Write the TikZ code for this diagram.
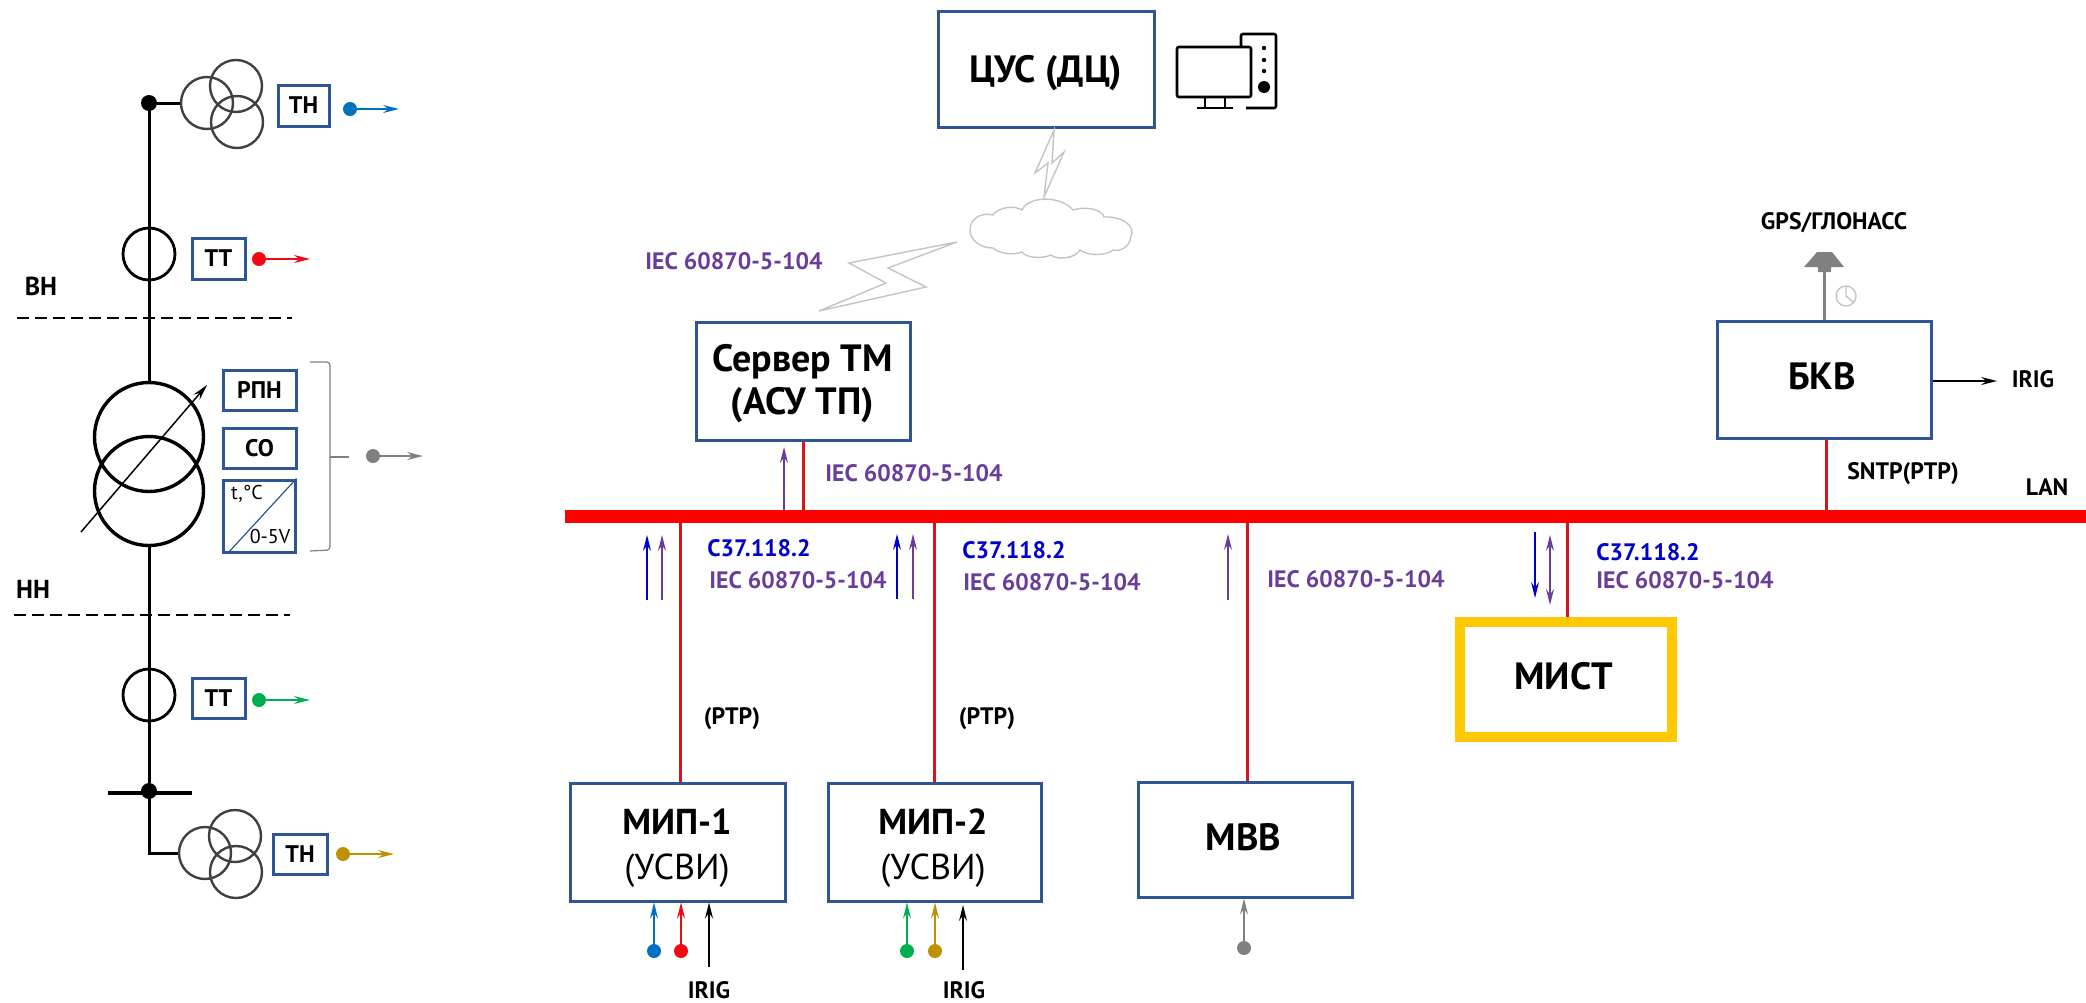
\documentclass[tikz,border=0pt]{standalone}
\usepackage{fontspec}
\setmainfont{PT Sans}
\usetikzlibrary{arrows.meta}

\definecolor{boxblue}{HTML}{2F5597}
\definecolor{lanred}{HTML}{FF0000}
\definecolor{tapred}{HTML}{D5141E}
\definecolor{protoblue}{HTML}{0000CC}
\definecolor{protopurple}{HTML}{6A3D9A}
\definecolor{sigblue}{HTML}{0070C0}
\definecolor{sigred}{HTML}{F00A14}
\definecolor{siggreen}{HTML}{00B050}
\definecolor{siggold}{HTML}{BF9000}
\definecolor{siggray}{HTML}{808080}
\definecolor{mistyellow}{HTML}{FFC800}
\definecolor{linkgray}{HTML}{C4C4C4}
\definecolor{coilgray}{HTML}{404040}

\tikzset{
  >={Stealth[length=8pt,width=4pt,inset=2.8pt]},
  unitbox/.style={draw=boxblue, line width=1.5pt, inner sep=0pt},
  unittext/.style={inner sep=0pt, align=center, font=\bfseries\fontsize{19}{21.5}\selectfont},
  miptext/.style={inner sep=0pt, align=center, font=\bfseries\fontsize{18}{22.5}\selectfont},
  smallbox/.style={draw=boxblue, line width=1.5pt, inner sep=0pt, font=\bfseries\fontsize{12}{14}\selectfont},
  lbl/.style={inner sep=0pt, font=\bfseries\fontsize{11.9}{14}\selectfont},
  iec/.style={lbl, anchor=west, text=protopurple},
  c37/.style={lbl, anchor=west, text=protoblue},
  coil/.style={circle, draw=coilgray, line width=1.2pt, minimum size=26pt, inner sep=0pt},
  ct/.style={circle, draw=black, line width=1.4pt, minimum size=26pt, inner sep=0pt},
  winding/.style={circle, draw=black, line width=1.7pt, minimum size=54.5pt, inner sep=0pt},
  dot/.style={circle, fill=#1, minimum size=7pt, inner sep=0pt},
  sig/.style={->, #1, line width=.75pt},
  tap/.style={tapred, line width=1.5pt},
  zone/.style={dash pattern=on 6pt off 3pt, line width=.6pt},
  bolt/.style={draw=linkgray, line width=.7pt, line join=miter}
}

\begin{document}
\begin{tikzpicture}[x=0.5pt, y=-0.5pt]
  \useasboundingbox (0,0) rectangle (2086,1002);

  % -- Upper voltage transformer --
  \node[circle, fill=black, minimum size=8pt, inner sep=0pt] (topdot) at (149,103) {};
  \node[coil] (vt1a) at (207,103) {};
  \node[coil] (vt1b) at (236,86) {};
  \node[coil] (vt1c) at (237,122) {};
  \node[smallbox, minimum width=25.5pt, minimum height=20.5pt] (th1) at (303.5,105.5) {ТН};
  \draw[line width=1.5pt] (topdot) -- (vt1a);
  \node[dot=sigblue] (th1dot) at (350,109) {};
  \coordinate (th1end) at (399,109);
  \draw[sig=sigblue] (th1dot) -- (th1end);

  % -- Upper current transformer --
  \node[ct] (ct1) at (149,254) {};
  \node[smallbox, minimum width=26.5pt, minimum height=20.5pt] (tt1) at (218.5,258.5) {ТТ};
  \node[dot=sigred] (tt1dot) at (259,259) {};
  \coordinate (tt1end) at (310,259);
  \draw[sig=sigred] (tt1dot) -- (tt1end);

  % -- Voltage zones --
  \node[font=\bfseries\fontsize{13}{15}\selectfont, inner sep=0pt] (vn) at (41,286) {ВН};
  \coordinate (vnL) at (17,318);
  \coordinate (vnR) at (292,318);
  \draw[zone] (vnL) -- (vnR);
  \node[font=\bfseries\fontsize{13}{15}\selectfont, inner sep=0pt] (nn) at (33,589) {НН};
  \coordinate (nnL) at (14,615);
  \coordinate (nnR) at (290,615);
  \draw[zone] (nnL) -- (nnR);

  % -- Power transformer --
  \node[winding] (trhi) at (149,437) {};
  \node[winding] (trlo) at (149,491) {};
  \coordinate (tapA) at (81,532);
  \coordinate (tapB) at (207,385);
  \draw[->, line width=.75pt] (tapA) -- (tapB);
  \draw[line width=1.5pt] (topdot) -- (trhi);

  % -- Transformer monitoring --
  \node[smallbox, minimum width=36.5pt, minimum height=20pt] (rpn) at (259.5,390) {РПН};
  \node[smallbox, minimum width=36.5pt, minimum height=20pt] (so) at (259.5,448) {СО};
  \node[smallbox, minimum width=36pt, minimum height=36pt] (sens) at (259,516) {};
  \draw[boxblue, line width=.6pt] ([xshift=3pt]sens.south west) -- (sens.north east);
  \node[font=\fontsize{10}{12}\selectfont, inner sep=0pt] (tempC) at (247,494) {t,°C};
  \node[font=\fontsize{10}{12}\selectfont, inner sep=0pt] (volts) at (270,536) {0-5V};
  \coordinate (brA) at (310,362);
  \coordinate (brB) at (330,362);
  \coordinate (brC) at (330,550);
  \coordinate (brD) at (310,551);
  \coordinate (brM) at (330,457);
  \coordinate (brE) at (349,457);
  \draw[siggray, line width=.6pt, rounded corners=1.5pt] (brA) -- (brB) -- (brC) -- (brD);
  \draw[siggray, line width=.6pt] (brM) -- (brE);
  \node[dot=siggray] (mondot) at (373,456) {};
  \coordinate (monend) at (423,456);
  \draw[sig=siggray] (mondot) -- (monend);

  % -- Lower current transformer --
  \node[ct] (ct2) at (149,695) {};
  \node[smallbox, minimum width=26.5pt, minimum height=20pt] (tt2) at (218.5,698) {ТТ};
  \node[dot=siggreen] (tt2dot) at (259,700) {};
  \coordinate (tt2end) at (310,700);
  \draw[sig=siggreen] (tt2dot) -- (tt2end);

  % -- Lower bus and voltage transformer --
  \node[circle, fill=black, minimum size=8pt, inner sep=0pt] (busdot) at (149,791) {};
  \coordinate (lowL) at (108,793);
  \coordinate (lowR) at (192,793);
  \draw[line width=2.2pt] (lowL) -- (lowR);
  \draw[line width=1.5pt] (trlo) -- (busdot);
  \node[coil] (vt2a) at (205,853) {};
  \node[coil] (vt2b) at (235,836) {};
  \node[coil] (vt2c) at (236,872) {};
  \draw[line width=1.5pt] (busdot) |- (vt2a);
  \node[smallbox, minimum width=27pt, minimum height=20pt] (th2) at (300,854) {ТН};
  \node[dot=siggold] (th2dot) at (343,854) {};
  \coordinate (th2end) at (394,854);
  \draw[sig=siggold] (th2dot) -- (th2end);

  % -- Control centre --
  \node[unitbox, minimum width=108pt, minimum height=58pt] (cus) at (1046,69) {};
  \node[unittext] (custxt) at (1046,73) {ЦУС (ДЦ)};

  % -- Computer icon --
  \draw[line width=1.3pt, rounded corners=1pt] (1177,47) rectangle (1251,97);
  \draw[line width=1.3pt, rounded corners=1pt] (1241,47) -- (1241,34) -- (1276,34) -- (1276,108) -- (1246,108);
  \draw[line width=1.3pt] (1205,97) -- (1205,107) (1225,97) -- (1225,107) (1197,108) -- (1233,108);
  \fill (1264,48) circle (1.1pt) (1264,60) circle (1.1pt) (1264,71) circle (1.1pt) (1264,87) circle (3pt);

  % -- Radio links and cloud --
  \draw[bolt] (1054,130) -- (1035,173) -- (1048,163) -- (1044,197) -- (1064,152) -- (1052,163) -- cycle;
  \draw[bolt] (970,230) .. controls (970,218) and (982,212) .. (993,215) .. controls (998,207) and (1015,205) .. (1022,210) .. controls (1028,196) and (1060,195) .. (1073,210) .. controls (1085,206) and (1102,209) .. (1104,217) .. controls (1122,216) and (1136,226) .. (1131,236) .. controls (1130,247) and (1120,252) .. (1113,250) .. controls (1106,256) and (1088,256) .. (1080,250) .. controls (1075,259) and (1056,260) .. (1051,255) .. controls (1042,259) and (1026,258) .. (1022,252) .. controls (1012,256) and (998,253) .. (993,248) .. controls (980,248) and (970,240) .. (970,230) -- cycle;
  \draw[bolt] (957,242) -- (849,263) -- (886,283) -- (819,311) -- (926,287) -- (888,268) -- cycle;
  \node[iec] (ieccloud) at (645,261) {IEC 60870-5-104};

  % -- TM server --
  \node[unitbox, minimum width=107pt, minimum height=59pt] (server) at (803,381) {};
  \node[unittext] (servertxt) at (802.5,384) {Сервер ТМ\\(АСУ ТП)};

  % -- Time server --
  \node[unitbox, minimum width=107pt, minimum height=58.5pt] (bkv) at (1824,379.5) {};
  \node[unittext] (bkvtxt) at (1822,376) {БКВ};
  \coordinate (antbase) at (1824,272);
  \draw[siggray, line width=1.5pt] (bkv.north) -- (antbase);
  \fill[siggray] (1817,252) -- (1832,252) -- (1844,267) -- (1831,267) -- (1831,272) -- (1818,272) -- (1818,267) -- (1804,267) -- cycle;
  \draw[linkgray, line width=.7pt] (1846,296) circle (5pt) (1846,287) -- (1846,296) -- (1853,302);
  \node[lbl] (gps) at (1834,223) {GPS/ГЛОНАСС};
  \coordinate (irigout) at (1997,381);
  \draw[sig=black] (bkv.east |- irigout) -- (irigout);
  \node[lbl] (irig3) at (2033,379) {IRIG};
  \node[lbl] (sntp) at (1903,474) {SNTP(PTP)};
  \node[lbl] (lan) at (2047,487) {LAN};

  % -- Field units --
  \node[unitbox, minimum width=107.5pt, minimum height=59pt] (mip1) at (677.5,842) {};
  \node[miptext] (mip1txt) at (677,848) {МИП-1\\\mdseries (УСВИ)};
  \node[unitbox, minimum width=106.5pt, minimum height=59pt] (mip2) at (934.5,842) {};
  \node[miptext] (mip2txt) at (933,848) {МИП-2\\\mdseries (УСВИ)};
  \node[unitbox, minimum width=107pt, minimum height=57.5pt] (mvv) at (1245,839.5) {};
  \node[unittext] (mvvtxt) at (1243.5,837.5) {МВВ};
  \node[unitbox, draw=mistyellow, line width=5pt, minimum width=106pt, minimum height=57.5pt] (mist) at (1566,679.5) {};
  \node[unittext] (misttxt) at (1563.5,676.5) {МИСТ};

  % -- LAN taps --
  \coordinate (tapsrv) at (803,516);
  \coordinate (tapmip1) at (680,516);
  \coordinate (tapmip2) at (934,516);
  \coordinate (tapmvv) at (1247,516);
  \coordinate (tapmist) at (1567,516);
  \coordinate (tapbkv) at (1826,516);
  \draw[tap] (tapsrv) -- (tapsrv |- server.south);
  \draw[tap] (tapmip1) -- (tapmip1 |- mip1.north);
  \draw[tap] (tapmip2) -- (tapmip2 |- mip2.north);
  \draw[tap] (tapmvv) -- (tapmvv |- mvv.north);
  \draw[tap] (tapmist) -- (tapmist |- mist.north);
  \draw[tap] (tapbkv) -- (tapbkv |- bkv.south);

  % -- LAN --
  \coordinate (lanL) at (565,516);
  \coordinate (lanR) at (2086,516);
  \draw[lanred, line width=6.5pt] (lanL) -- (lanR);

  % -- Protocol flows --
  \draw[sig=protopurple] (784,510) -- (784,447);
  \node[iec] (iecsrv) at (825,473) {IEC 60870-5-104};

  \draw[sig=protoblue] (647,600) -- (647,535);
  \draw[sig=protopurple] (662,600) -- (662,535);
  \node[c37] (c37mip1) at (707,548) {C37.118.2};
  \node[iec] (iecmip1) at (709,580) {IEC 60870-5-104};
  \node[lbl] (ptp1) at (732,719) {(PTP)};

  \draw[sig=protoblue] (897,599) -- (897,534);
  \draw[sig=protopurple] (913,599) -- (913,534);
  \node[c37] (c37mip2) at (962,550) {C37.118.2};
  \node[iec] (iecmip2) at (963,582) {IEC 60870-5-104};
  \node[lbl] (ptp2) at (987,719) {(PTP)};

  \draw[sig=protopurple] (1228,600) -- (1228,534);
  \node[iec] (iecmvv) at (1267,579) {IEC 60870-5-104};

  \draw[sig=protoblue] (1535,532) -- (1535,598);
  \draw[sig=protopurple, <->] (1550,535) -- (1550,605);
  \node[c37] (c37mist) at (1596,552) {C37.118.2};
  \node[iec] (iecmist) at (1596,580) {IEC 60870-5-104};

  % -- Signal inputs, МИП-1 --
  \node[dot=sigblue] (in1a) at (654,951) {};
  \node[dot=sigred] (in1b) at (681,951) {};
  \draw[sig=sigblue] (in1a) -- (in1a |- mip1.south);
  \draw[sig=sigred] (in1b) -- (in1b |- mip1.south);
  \coordinate (irig1) at (709,967);
  \draw[sig=black] (irig1) -- (irig1 |- mip1.south);
  \node[lbl] (irig1txt) at (709,990) {IRIG};

  % -- Signal inputs, МИП-2 --
  \node[dot=siggreen] (in2a) at (907,951) {};
  \node[dot=siggold] (in2b) at (935,951) {};
  \draw[sig=siggreen] (in2a) -- (in2a |- mip2.south);
  \draw[sig=siggold] (in2b) -- (in2b |- mip2.south);
  \coordinate (irig2) at (963,970);
  \coordinate (irig2top) at (963,905);
  \draw[sig=black] (irig2) -- (irig2top);
  \node[lbl] (irig2txt) at (964,990) {IRIG};

  % -- Signal input, МВВ --
  \node[dot=siggray] (in3) at (1244,948) {};
  \draw[sig=siggray] (in3) -- (in3 |- mvv.south);

\end{tikzpicture}
\end{document}
